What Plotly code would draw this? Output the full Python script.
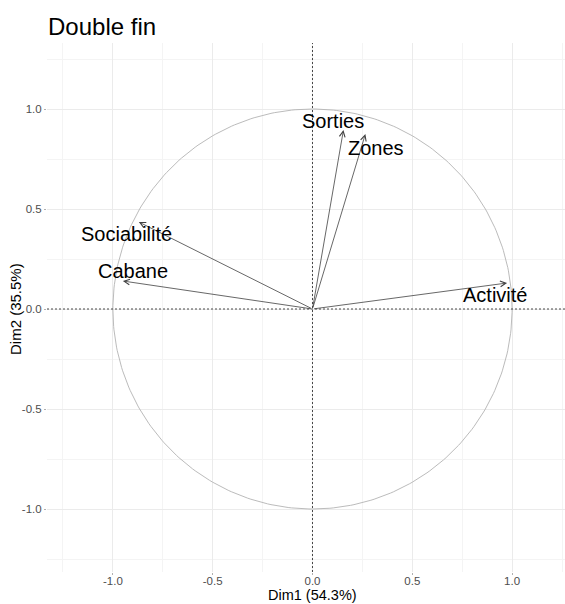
import numpy as np
import plotly.graph_objects as go

# Data: variable coordinates on Dim1 / Dim2
variables = ["Sorties", "Zones", "Sociabilité", "Cabane", "Activité"]
dim1 = [0.155, 0.265, -0.87, -0.95, 0.975]
dim2 = [0.895, 0.875, 0.435, 0.14, 0.13]

# Repelled label positions (layout)
label_x = [0.102, 0.317, -0.933, -0.90, 0.913]
label_y = [0.940, 0.806, 0.377, 0.189, 0.070]

tick_vals = [-1.0, -0.5, 0.0, 0.5, 1.0]
tick_text = ["-1.0", "-0.5", "0.0", "0.5", "1.0"]

title = "Double fin"
xlab = "Dim1 (54.3%)"
ylab = "Dim2 (35.5%)"

FONT = "Liberation Sans, Arial, sans-serif"
W, H = 565, 604
L, R, T, B = 47, 0, 43, 32
PW, PH = W - L - R, H - T - B

fig = go.Figure()

# Unit correlation circle
theta = np.linspace(0, 2 * np.pi, 361)
fig.add_trace(go.Scatter(x=np.cos(theta), y=np.sin(theta), mode="lines",
                         line=dict(color="#b3b3b3", width=0.9),
                         hoverinfo="skip", showlegend=False))

fig.add_hline(y=0, line=dict(color="#333333", width=0.9, dash="2px,2px"))
fig.add_vline(x=0, line=dict(color="#333333", width=0.9, dash="2px,2px"))

annotations = []
for name, x, y, lx, ly in zip(variables, dim1, dim2, label_x, label_y):
    annotations.append(dict(x=x, y=y, ax=0, ay=0, xref="x", yref="y",
                            axref="x", ayref="y", text="", showarrow=True,
                            arrowhead=5, arrowsize=1.4, arrowwidth=0.8,
                            arrowcolor="#404040", standoff=0, startstandoff=0))
    annotations.append(dict(x=lx, y=ly, xref="x", yref="y", text=name,
                            showarrow=False, xanchor="center", yanchor="middle",
                            font=dict(family=FONT, size=20, color="black")))

# Axis titles
annotations.append(dict(text=xlab, xref="paper", yref="paper",
                        x=(312 - L) / PW, y=-(595 - (T + PH)) / PH,
                        xanchor="center", yanchor="middle", showarrow=False,
                        font=dict(family=FONT, size=14.5, color="black")))
annotations.append(dict(text=ylab, xref="paper", yref="paper",
                        x=-(L - 15) / PW, y=(T + PH - 309) / PH, textangle=-90,
                        xanchor="center", yanchor="middle", showarrow=False,
                        font=dict(family=FONT, size=15, color="black")))

axis_common = dict(
    tickvals=tick_vals, ticktext=tick_text,
    showgrid=True, gridcolor="#ebebeb", gridwidth=1,
    zeroline=False, showline=False, automargin=False,
    ticks="outside", ticklen=2, tickcolor="#b0b0b0", tickwidth=1,
    tickfont=dict(family=FONT, size=11.5, color="#4d4d4d"),
    minor=dict(dtick=0.25, tick0=0, showgrid=True, gridcolor="#f4f4f4", gridwidth=0.6, ticks=""),
)

fig.update_layout(
    width=W, height=H,
    margin=dict(l=L, r=R, t=T, b=B, autoexpand=False),
    paper_bgcolor="white", plot_bgcolor="white",
    title=dict(text=title, x=48 / W, xref="container", xanchor="left",
               y=1 - 27 / H, yref="container", yanchor="middle",
               font=dict(family=FONT, size=24, color="black")),
    xaxis=dict(range=[-1.33, 1.265], **axis_common),
    yaxis=dict(range=[-1.315, 1.33], **axis_common),
    annotations=annotations,
    showlegend=False,
)
fig.update_xaxes(ticklabelstandoff=-4)

fig.write_html("out.html", config={"displayModeBar": False},
               post_script="document.body.style.margin='0';")
